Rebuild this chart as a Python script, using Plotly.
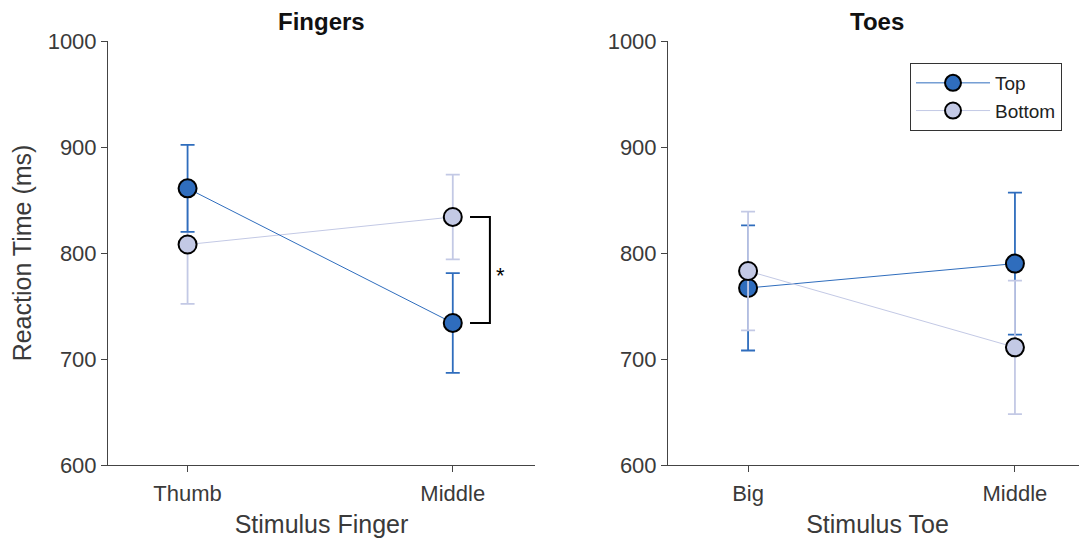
import plotly.graph_objects as go

finger_cats = ["Thumb", "Middle"]
toe_cats = ["Big", "Middle"]

fingers_top = [861, 734]
fingers_top_err = [41, 47]
fingers_bottom = [808, 834]
fingers_bottom_err = [56, 40]

toes_top = [767, 790]
toes_top_err = [59, 67]
toes_bottom = [783, 711]
toes_bottom_err = [56, 63]

series_names = ["Top", "Bottom"]
colors = ["#2f6dbd", "#c3c9e5"]
yticks = [600, 700, 800, 900, 1000]

FONT = "Liberation Sans, Arial, sans-serif"
TXT = "#3a3a3a"

W, H = 1087, 540
# the page body adds an 8px offset; positions below are in figure pixels
def px_x(p):
    return p / W

def px_y(p):
    return 1 - p / H

fig = go.Figure()

def add_series(x, y, err, name, color, xa, ya, show):
    fig.add_trace(go.Scatter(
        x=list(range(len(x))), y=y, name=name, mode="lines+markers",
        line=dict(color=color, width=1),
        marker=dict(size=18, color=color, line=dict(color="black", width=2)),
        error_y=dict(type="data", array=err, color=color, thickness=1.8, width=7),
        xaxis=xa, yaxis=ya, showlegend=show, legendgroup=name,
    ))

add_series(finger_cats, fingers_bottom, fingers_bottom_err, series_names[1], colors[1], "x", "y", False)
add_series(finger_cats, fingers_top, fingers_top_err, series_names[0], colors[0], "x", "y", False)
add_series(toe_cats, toes_top, toes_top_err, series_names[0], colors[0], "x2", "y2", True)
add_series(toe_cats, toes_bottom, toes_bottom_err, series_names[1], colors[1], "x2", "y2", True)

axis_common = dict(showline=True, linecolor="#444", linewidth=1, ticks="outside",
                   ticklen=6, tickcolor="#444", showgrid=False, zeroline=False,
                   automargin=False,
                   tickfont=dict(family=FONT, size=22, color=TXT))
title_font = dict(size=25, family=FONT, color=TXT)

xdom1 = [px_x(100), px_x(527)]
xdom2 = [px_x(660), px_x(1079)]
ydom = [px_y(457), px_y(33)]

fig.update_layout(
    width=W, height=H,
    margin=dict(l=0, r=0, t=0, b=0),
    paper_bgcolor="white", plot_bgcolor="white",
    font=dict(family=FONT, color=TXT),
    xaxis=dict(domain=xdom1, range=[-0.30, 1.31],
               tickvals=[0, 1], ticktext=finger_cats, anchor="y",
               ticklabelstandoff=3,
               title=dict(text="Stimulus Finger", font=title_font, standoff=10),
               **axis_common),
    yaxis=dict(domain=ydom, range=[600, 1000], tickvals=yticks, anchor="x",
               title=dict(text="Reaction Time (ms)", font=title_font, standoff=14),
               **axis_common),
    xaxis2=dict(domain=xdom2, range=[-0.30, 1.27],
                tickvals=[0, 1], ticktext=toe_cats, anchor="y2",
                ticklabelstandoff=3,
                title=dict(text="Stimulus Toe", font=title_font, standoff=10),
                **axis_common),
    yaxis2=dict(domain=ydom, range=[600, 1000], tickvals=yticks, anchor="x2",
                **axis_common),
    legend=dict(x=px_x(902), y=px_y(55), xanchor="left", yanchor="top",
                bordercolor="#333", borderwidth=1, bgcolor="white",
                font=dict(family=FONT, size=19, color="#222"),
                tracegroupgap=0, itemwidth=74),
    showlegend=True,
)

fig.add_annotation(text="<b>Fingers</b>", xref="paper", yref="paper",
                   x=sum(xdom1) / 2, y=px_y(14), xanchor="center", yanchor="middle",
                   showarrow=False, font=dict(size=24, family=FONT, color="#111"))
fig.add_annotation(text="<b>Toes</b>", xref="paper", yref="paper",
                   x=sum(xdom2) / 2, y=px_y(14), xanchor="center", yanchor="middle",
                   showarrow=False, font=dict(size=24, family=FONT, color="#111"))

y_hi = fingers_bottom[1]
y_lo = fingers_top[1]
xs, xe = 1.065, 1.14
fig.add_shape(type="path", xref="x", yref="y",
              path=f"M {xs} {y_hi} L {xe} {y_hi} L {xe} {y_lo} L {xs} {y_lo}",
              line=dict(color="black", width=2))
fig.add_annotation(text="*", x=1.18, y=(y_hi + y_lo) / 2 - 5, xref="x", yref="y",
                   showarrow=False, font=dict(size=22, color="black", family=FONT))

fig.write_html("out.html")
